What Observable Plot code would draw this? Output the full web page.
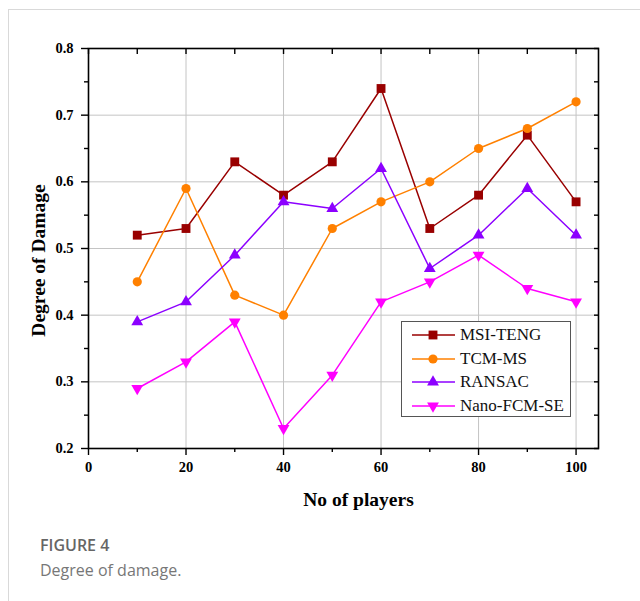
<!DOCTYPE html>
<html><head><meta charset="utf-8">
<script src="https://cdn.jsdelivr.net/npm/d3@7"></script>
<script src="https://cdn.jsdelivr.net/npm/@observablehq/plot@0.6"></script>
<style>
body{margin:0;background:#fff;width:640px;height:601px;overflow:hidden;position:relative}
#frame{position:absolute;left:8px;top:9px;width:640px;height:600px;border-top:1px solid #d9d9d9;border-left:1px solid #d9d9d9}
#chart{position:absolute;left:0;top:0}
#legend{position:absolute;left:401px;top:321px;width:168px;height:94px;border:1px solid #555;background:#fff;font-family:"Liberation Serif","Times New Roman",serif;font-size:17px;color:#111}
#legend .row{position:absolute;left:0;height:20px;display:flex;align-items:center}
#legend svg{display:block}
.cap1{position:absolute;left:40px;top:534px;font:600 16px "Open Sans",sans-serif;color:#666}
.cap2{position:absolute;left:40px;top:559px;font:400 16px "Open Sans",sans-serif;color:#777}
</style></head>
<body>
<div id="frame"></div>
<div id="chart"></div>
<div id="legend"></div>
<div class="cap1">FIGURE 4</div>
<div class="cap2">Degree of damage.</div>
<script>
const players = [10, 20, 30, 40, 50, 60, 70, 80, 90, 100];
const msiTeng = [0.52, 0.53, 0.63, 0.58, 0.63, 0.74, 0.53, 0.58, 0.67, 0.57];
const tcmMs = [0.45, 0.59, 0.43, 0.40, 0.53, 0.57, 0.60, 0.65, 0.68, 0.72];
const ransac = [0.39, 0.42, 0.49, 0.57, 0.56, 0.62, 0.47, 0.52, 0.59, 0.52];
const nanoFcmSe = [0.29, 0.33, 0.39, 0.23, 0.31, 0.42, 0.45, 0.49, 0.44, 0.42];
const seriesNames = ["MSI-TENG", "TCM-MS", "RANSAC", "Nano-FCM-SE"];
const seriesColors = ["#990000", "#ff8000", "#8c00ff", "#ff00ff"];
const seriesSymbols = ["square", "circle", "triangle", "triangle"];
const seriesRotate = [0, 0, 0, 180];
const seriesR = [5, 4.6, 4.4, 4.4];
const xTicks = [0, 20, 40, 60, 80, 100];
const xMinor = [10, 30, 50, 70, 90];
const yTicks = [0.2, 0.3, 0.4, 0.5, 0.6, 0.7, 0.8];
const yMinor = [0.25, 0.35, 0.45, 0.55, 0.65, 0.75];
const xLabel = "No of players";
const yLabel = "Degree of Damage";

const seriesValues = [msiTeng, tcmMs, ransac, nanoFcmSe];
const rows = seriesNames.flatMap((s, i) => players.map((p, j) => ({series: s, x: p, y: seriesValues[i][j]})));

const blank = () => "";
const dotMarks = seriesNames.map((s, i) => Plot.dot(rows.filter(d => d.series === s), {
  x: "x", y: "y", fill: "series", symbol: () => seriesSymbols[i], r: seriesR[i], rotate: seriesRotate[i]
}));

const chart = Plot.plot({
  width: 640, height: 520,
  marginLeft: 88, marginRight: 42, marginTop: 48, marginBottom: 72,
  style: {fontFamily: "'Liberation Serif', 'Times New Roman', serif", fontSize: "14.5px", background: "transparent", overflow: "visible"},
  x: {domain: [0, 104.6]},
  y: {domain: [0.2, 0.8]},
  color: {domain: seriesNames, range: seriesColors},
  symbol: {domain: seriesSymbols, range: seriesSymbols},
  marks: [
    Plot.gridX(xTicks.slice(1), {stroke: "#c4c4c4", strokeOpacity: 1, strokeWidth: 1}),
    Plot.gridY(yTicks.slice(1, -1), {stroke: "#c4c4c4", strokeOpacity: 1, strokeWidth: 1}),
    Plot.axisX(xTicks, {anchor: "bottom", tickSize: 7, tickPadding: 6, fontSize: 14.5, fontWeight: "bold", label: null, strokeWidth: 1.4, fill: "#000"}),
    Plot.axisX(xMinor, {anchor: "bottom", tickSize: 4, tickFormat: blank, label: null, strokeWidth: 1.4}),
    Plot.axisX([...xTicks, ...xMinor], {anchor: "top", tickSize: -5, tickFormat: blank, label: null, strokeWidth: 1.4}),
    Plot.axisY(yTicks, {anchor: "left", tickSize: 7, tickPadding: 8, tickFormat: d3.format(".1f"), fontSize: 14.5, fontWeight: "bold", label: null, strokeWidth: 1.4, fill: "#000"}),
    Plot.axisY(yMinor, {anchor: "left", tickSize: 4, tickFormat: blank, label: null, strokeWidth: 1.4}),
    Plot.axisY([...yTicks, ...yMinor], {anchor: "right", tickSize: -5, tickFormat: blank, label: null, strokeWidth: 1.4}),
    Plot.frame({stroke: "#000", strokeWidth: 1.6}),
    Plot.line(rows, {x: "x", y: "y", z: "series", stroke: "series", strokeWidth: 1.5}),
    ...dotMarks,
    Plot.text([xLabel], {frameAnchor: "bottom", lineAnchor: "middle", textAnchor: "middle", dx: 15, dy: 51, fontSize: 19.5, fontWeight: "bold", fill: "#000"}),
    Plot.text([yLabel], {frameAnchor: "left", textAnchor: "middle", lineAnchor: "middle", dx: -50, dy: 12, rotate: -90, fontSize: 19.5, fontWeight: "bold", fill: "#000"})
  ]
});
document.getElementById("chart").appendChild(chart);

// legend
const legend = document.getElementById("legend");
const symGen = {square: d3.symbolSquare, circle: d3.symbolCircle, triangle: d3.symbolTriangle};
seriesNames.forEach((s, i) => {
  const row = document.createElement("div");
  row.className = "row";
  row.style.top = (3 + i * 23.7) + "px";
  const area = Math.PI * seriesR[i] * seriesR[i];
  const path = d3.symbol(symGen[seriesSymbols[i]], area)();
  row.innerHTML = `<svg width="58" height="20"><line x1="10" x2="53" y1="10" y2="10" stroke="${seriesColors[i]}" stroke-width="1.5"/><path d="${path}" transform="translate(31,10) rotate(${seriesRotate[i]})" fill="${seriesColors[i]}"/></svg><span>${s}</span>`;
  legend.appendChild(row);
});
</script>
</body></html>
